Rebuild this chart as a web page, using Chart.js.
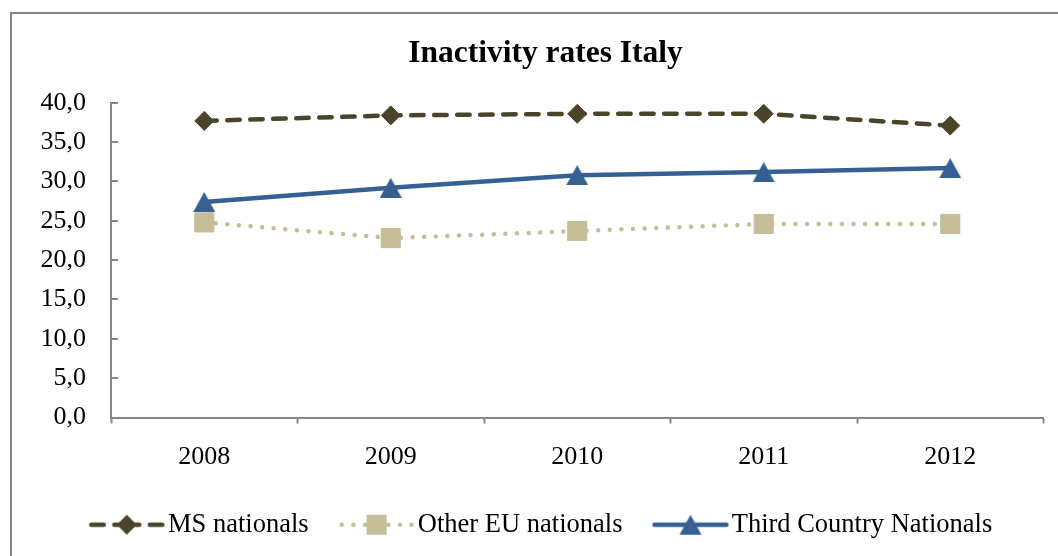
<!DOCTYPE html>
<html>
<head>
<meta charset="utf-8">
<title>Inactivity rates Italy</title>
<script src="https://cdn.jsdelivr.net/npm/chart.js@4"></script>
<style>
    html, body { margin: 0; padding: 0; background: #fff; overflow: hidden; }
    #frame {
        position: absolute; left: 10px; top: 12px; width: 1100px; height: 600px;
        border-left: 2px solid #858585; border-top: 2px solid #858585;
    }
    #chart { position: absolute; left: 0; top: 0; }
</style>
</head>
<body>
<div id="frame"></div>
<canvas id="chart" width="1058" height="556"></canvas>
<script>
// Data
const YEARS = ["2008", "2009", "2010", "2011", "2012"];
const MS_NATIONALS    = [37.7, 38.4, 38.6, 38.6, 37.1];
const OTHER_EU        = [24.8, 22.8, 23.7, 24.6, 24.6];
const THIRD_COUNTRY   = [27.4, 29.2, 30.8, 31.2, 31.7];
const SERIES_LABELS   = ["MS nationals", "Other EU nationals", "Third Country Nationals"];
const Y_MIN = 0, Y_MAX = 40, Y_STEP = 5;

// Colours (Excel-ish palette)
const COLOR_MS    = "#4A452A";
const COLOR_EU    = "#C4BD97";
const COLOR_THIRD = "#376092";
const AXIS_COLOR  = "#868686";
const FONT        = "'Liberation Serif', 'Times New Roman', serif";

const DASH_MS = [12.5, 10.5];
const DASH_EU = [0.01, 11.6];

// ---- marker helpers ----
function drawDiamond(g, x, y) {
    g.beginPath();
    g.moveTo(x - 10, y); g.lineTo(x, y - 10); g.lineTo(x + 10, y); g.lineTo(x, y + 10);
    g.closePath(); g.fill();
}
function drawSquare(g, x, y) {
    g.fillRect(x - 10, y - 10, 20, 20);
}
function drawTriangle(g, x, y) {
    g.beginPath();
    g.moveTo(x, y - 10); g.lineTo(x + 11, y + 10); g.lineTo(x - 11, y + 10);
    g.closePath(); g.fill();
}

// Triangle marker as an image so that it sits centred on the point like Excel's
const triangleMarker = (() => {
    const c = document.createElement("canvas");
    c.width = 22; c.height = 20;
    const g = c.getContext("2d");
    g.fillStyle = COLOR_THIRD;
    drawTriangle(g, 11, 10);
    return c;
})();

// Legend icon: line sample with the marker in the middle
function legendIcon(color, dash, marker) {
    const c = document.createElement("canvas");
    c.width = 78; c.height = 24;
    const g = c.getContext("2d");
    g.strokeStyle = color;
    g.lineWidth = 4.5;
    g.lineCap = "round";
    g.setLineDash(dash);
    [[39, 3], [39, 75]].forEach(([a, b]) => {
        g.beginPath(); g.moveTo(a, 12); g.lineTo(b, 12); g.stroke();
    });
    g.setLineDash([]);
    g.fillStyle = color;
    marker(g, 39, 12);
    return c;
}
const LEGEND_ICONS = [
    legendIcon(COLOR_MS, DASH_MS, drawDiamond),
    legendIcon(COLOR_EU, DASH_EU, drawSquare),
    legendIcon(COLOR_THIRD, [], drawTriangle)
];

// ---- y axis ticks pointing into the plot (Excel style) ----
const yTicksInside = {
    id: "yTicksInside",
    beforeDatasetsDraw(chart) {
        const y = chart.scales.y;
        const ctx = chart.ctx;
        ctx.save();
        ctx.strokeStyle = AXIS_COLOR;
        ctx.lineWidth = 2;
        y.ticks.forEach((t) => {
            const py = Math.round(y.getPixelForValue(t.value));
            ctx.beginPath();
            ctx.moveTo(y.right, py);
            ctx.lineTo(y.right + 7, py);
            ctx.stroke();
        });
        ctx.restore();
    }
};

const ctx = document.getElementById("chart").getContext("2d");
new Chart(ctx, {
    type: "line",
    data: {
        labels: YEARS,
        datasets: [
            {
                label: SERIES_LABELS[0],
                data: MS_NATIONALS,
                borderColor: COLOR_MS,
                borderWidth: 4.5,
                borderDash: DASH_MS,
                borderCapStyle: "round",
                pointStyle: "rectRot",
                pointRadius: 9.5,
                pointBorderWidth: 1,
                pointBackgroundColor: COLOR_MS,
                pointBorderColor: COLOR_MS,
                tension: 0
            },
            {
                label: SERIES_LABELS[1],
                data: OTHER_EU,
                borderColor: COLOR_EU,
                borderWidth: 4.5,
                borderDash: DASH_EU,
                borderCapStyle: "round",
                pointStyle: "rect",
                pointRadius: 13.5,
                pointBorderWidth: 1,
                pointBackgroundColor: COLOR_EU,
                pointBorderColor: COLOR_EU,
                tension: 0
            },
            {
                label: SERIES_LABELS[2],
                data: THIRD_COUNTRY,
                borderColor: COLOR_THIRD,
                borderWidth: 4.5,
                pointStyle: triangleMarker,
                pointRadius: 10,
                pointBackgroundColor: COLOR_THIRD,
                pointBorderColor: COLOR_THIRD,
                tension: 0
            }
        ]
    },
    options: {
        responsive: false,
        animation: false,
        events: [],
        layout: { padding: { left: 38, right: 5, top: 0, bottom: 8 } },
        plugins: {
            title: {
                display: true,
                text: "Inactivity rates Italy",
                color: "#000",
                font: { family: FONT, size: 31.5, weight: "bold" },
                padding: { top: 35, bottom: 30 }
            },
            legend: {
                position: "bottom",
                labels: {
                    color: "#000",
                    font: { family: FONT, size: 26.5 },
                    usePointStyle: true,
                    pointStyleWidth: 56,
                    padding: 40,
                    generateLabels: (chart) =>
                        Chart.defaults.plugins.legend.labels.generateLabels(chart).map((item, i) => ({
                            ...item,
                            pointStyle: LEGEND_ICONS[i],
                            lineDash: []
                        }))
                }
            },
            tooltip: { enabled: false }
        },
        scales: {
            x: {
                offset: true,
                grid: {
                    display: true,
                    offset: true,
                    drawOnChartArea: false,
                    drawTicks: true,
                    tickLength: 6,
                    tickWidth: 2,
                    tickColor: AXIS_COLOR
                },
                border: { display: true, color: AXIS_COLOR, width: 2 },
                ticks: {
                    color: "#000",
                    font: { family: FONT, size: 26 },
                    padding: 18,
                    maxRotation: 0
                },
                afterFit: (scale) => { scale.height = 54; }
            },
            y: {
                min: Y_MIN,
                max: Y_MAX,
                grid: { display: false, drawTicks: false },
                border: { display: true, color: AXIS_COLOR, width: 2 },
                ticks: {
                    stepSize: Y_STEP,
                    color: "#000",
                    font: { family: FONT, size: 26 },
                    padding: 25,
                    callback: (v) => v.toFixed(1).replace(".", ",")
                },
                afterFit: (scale) => { scale.width = 73; }
            },
            // empty right-hand spacer so the plot stops short of the frame edge
            spacer: {
                type: "linear",
                position: "right",
                grid: { display: false, drawTicks: false },
                border: { display: false },
                ticks: { display: false },
                afterFit: (scale) => { scale.width = 9; }
            }
        }
    },
    plugins: [yTicksInside]
});
</script>
</body>
</html>
